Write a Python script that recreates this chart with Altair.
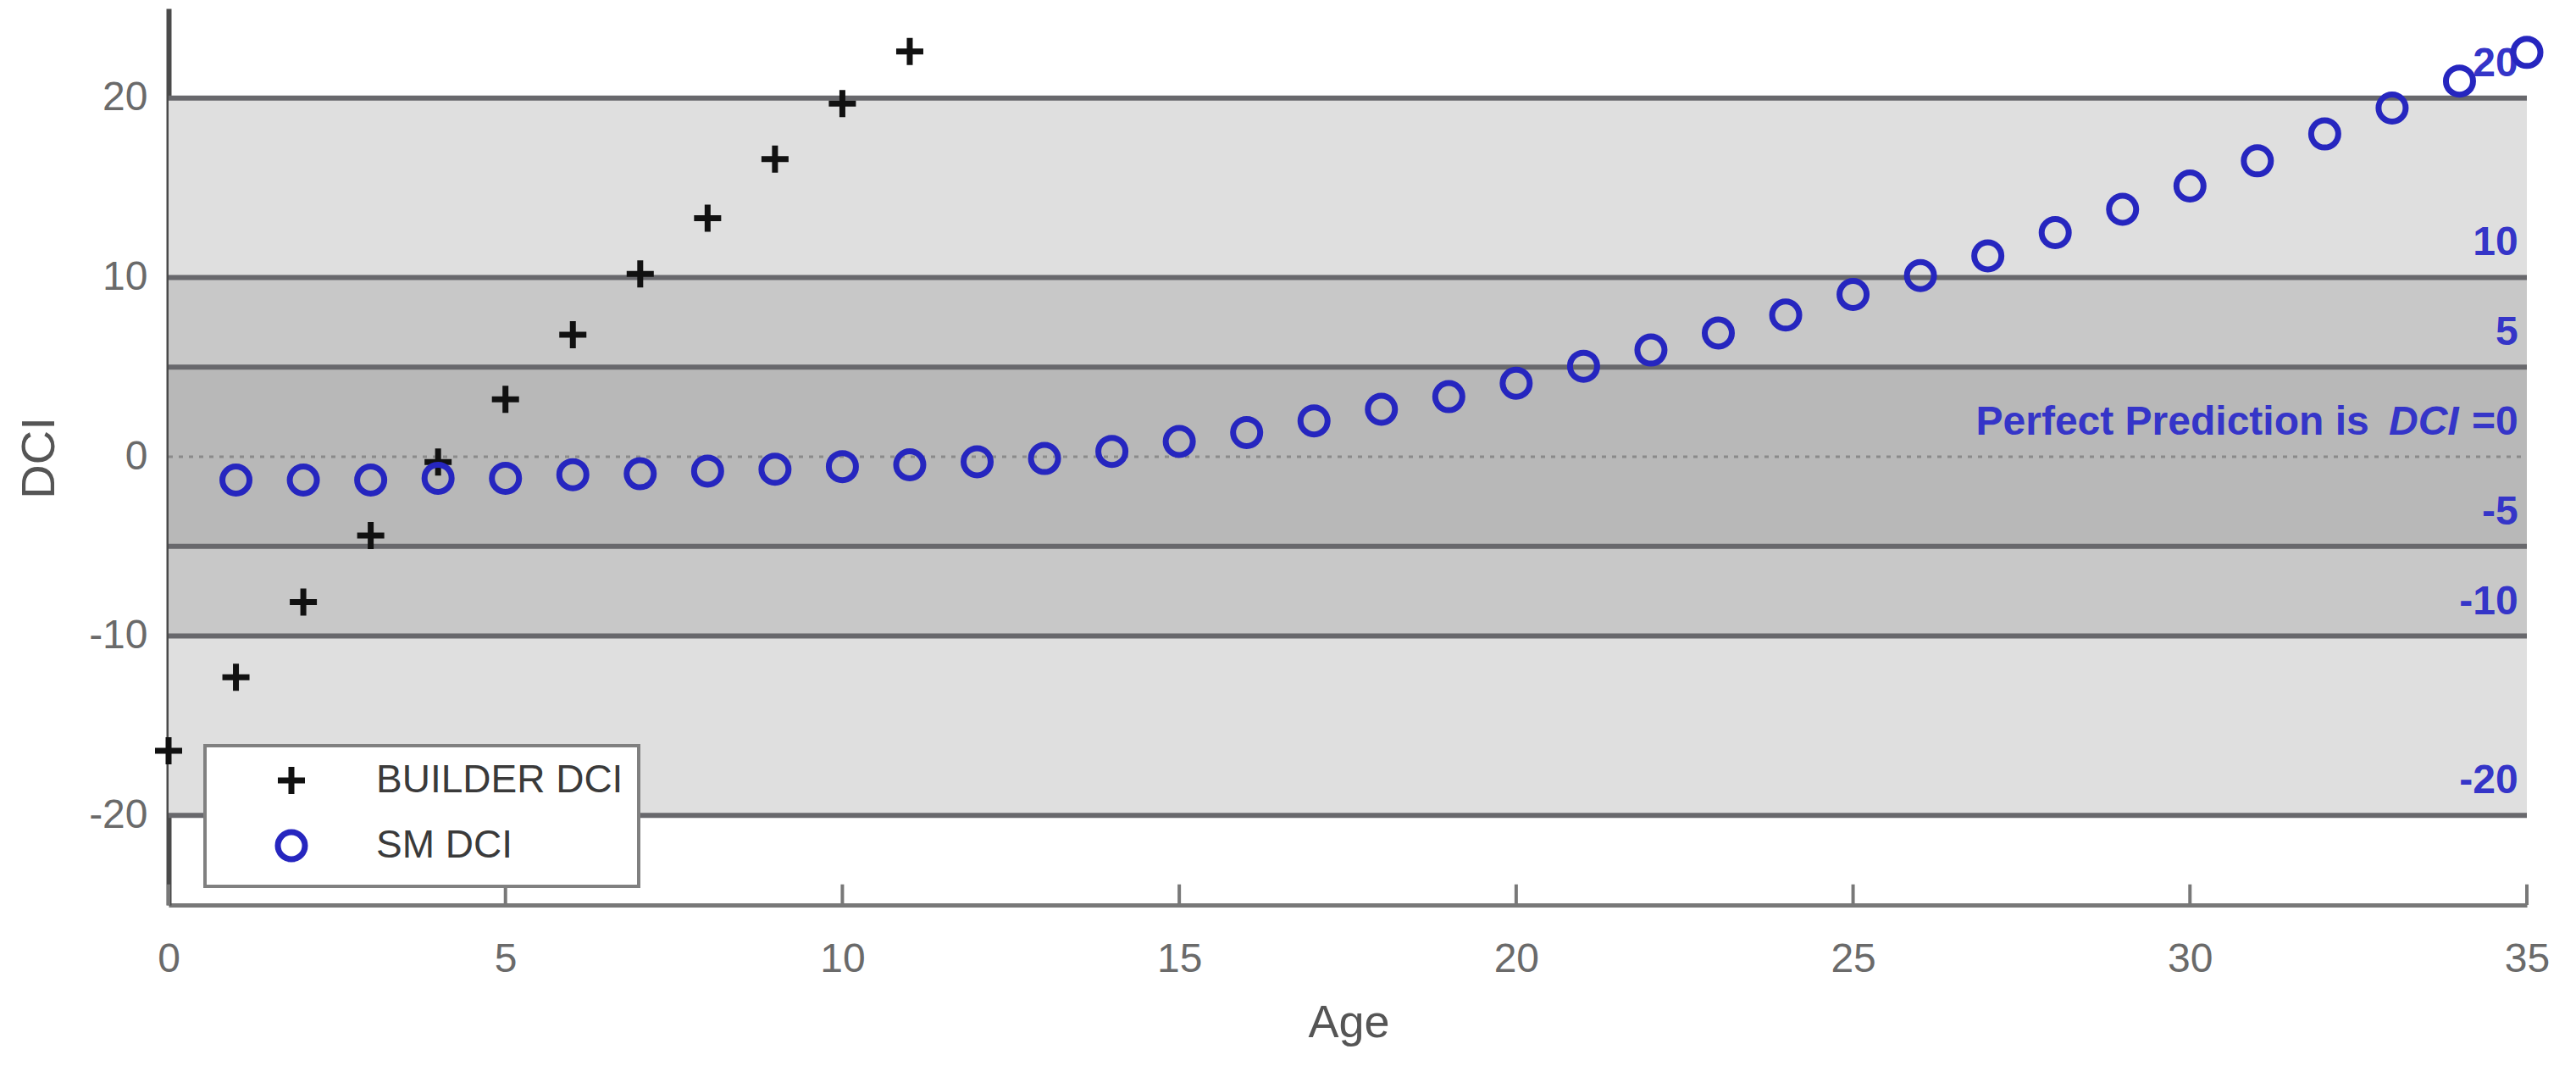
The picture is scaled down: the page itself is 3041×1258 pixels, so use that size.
import altair as alt
import pandas as pd

# ---------------- data ----------------
builder_age = list(range(0, 12))
builder_dci = [-16.4, -12.3, -8.1, -4.4, -0.3, 3.2, 6.8, 10.2, 13.3, 16.6, 19.7, 22.6]

sm_age = list(range(1, 36))
sm_dci = [-1.3, -1.3, -1.3, -1.2, -1.2, -1.0, -0.95, -0.8, -0.7, -0.55, -0.45,
          -0.28, -0.1, 0.3, 0.85, 1.35, 2.0, 2.65, 3.35, 4.1, 5.05, 5.95, 6.9,
          7.9, 9.05, 10.1, 11.2, 12.5, 13.8, 15.1, 16.5, 18.0, 19.45, 20.95, 22.55]

series_names = ["BUILDER DCI", "SM DCI"]

band_lo = [-20, -10, -5, 5, 10]
band_hi = [-10, -5, 5, 10, 20]
band_fill = ["#dfdfdf", "#c8c8c8", "#b8b8b8", "#c8c8c8", "#dfdfdf"]

limit_lines = [20, 10, 5, -5, -10, -20]
limit_labels = ["20", "10", "5", "-5", "-10", "-20"]

x_ticks = [0, 5, 10, 15, 20, 25, 30, 35]
y_ticks = [-20, -10, 0, 10, 20]

X_MIN, X_MAX = 0, 35
Y_MIN, Y_MAX = -25, 25
LABEL_X = 34.87
TICK_LEN = 1.15

# ---------------- tables ----------------
points = pd.DataFrame({
    "Age": builder_age + sm_age,
    "DCI": builder_dci + sm_dci,
    "series": [series_names[0]] * len(builder_age) + [series_names[1]] * len(sm_age),
})
bands = pd.DataFrame({"lo": band_lo, "hi": band_hi, "fill": band_fill,
                      "x0": X_MIN, "x1": X_MAX})
lines = pd.DataFrame({"y": limit_lines, "label": limit_labels,
                      "x0": X_MIN, "x1": X_MAX, "lx": LABEL_X})
zero = pd.DataFrame({"y": [0], "x0": [X_MIN], "x1": [X_MAX], "lx": [LABEL_X]})
ticks = pd.DataFrame({"x": x_ticks, "y0": Y_MIN, "y1": Y_MIN + TICK_LEN})

FONT = "Liberation Sans"
BLUE_TXT = "#3535c8"

xscale = alt.Scale(domain=[X_MIN, X_MAX], nice=False, zero=False)
yscale = alt.Scale(domain=[Y_MIN, Y_MAX], nice=False, zero=False)

x_axis = alt.Axis(values=x_ticks, ticks=False, tickSize=0, grid=False,
                  domainColor="#787878", domainWidth=5,
                  labelExpr="toString(datum.value)",
                  labelFontSize=48, labelColor="#6a6a6a", labelFont=FONT,
                  labelPadding=40, labelFlush=False,
                  title="Age", titleFontSize=54, titleFont=FONT,
                  titleColor="#555555", titleFontWeight="normal",
                  titleX=1393, titleY=139, titleBaseline="middle")
y_axis = alt.Axis(values=y_ticks, ticks=False, tickSize=0, grid=False,
                  domainColor="#4a4a4a", domainWidth=6,
                  labelExpr="toString(datum.value)",
                  labelFontSize=48, labelColor="#6a6a6a", labelFont=FONT,
                  labelPadding=25, labelFlush=False,
                  title="DCI", titleFontSize=56, titleFont=FONT,
                  titleColor="#555555", titleFontWeight="normal",
                  titleX=-153, titleY=530, titleAngle=270,
                  titleBaseline="middle", titleAlign="center")

band_layer = alt.Chart(bands).mark_rect().encode(
    x=alt.X("x0:Q", scale=xscale, axis=x_axis),
    x2="x1:Q",
    y=alt.Y("lo:Q", scale=yscale, axis=y_axis),
    y2="hi:Q",
    fill=alt.Fill("fill:N", scale=None),
)

line_layer = alt.Chart(lines).mark_rule(color="#68686c", strokeWidth=6).encode(
    x="x0:Q", x2="x1:Q", y="y:Q",
)

zero_layer = alt.Chart(zero).mark_rule(color="#8a8a8a", strokeWidth=3,
                                        strokeDash=[5, 7]).encode(
    x="x0:Q", x2="x1:Q", y="y:Q",
)

tick_layer = alt.Chart(ticks).mark_rule(color="#787878", strokeWidth=4).encode(
    x="x:Q", y="y0:Q", y2="y1:Q",
)

label_layer = alt.Chart(lines).mark_text(
    align="right", baseline="middle", dy=-40, font=FONT, fontSize=48,
    fontWeight="bold", color=BLUE_TXT,
).encode(x="lx:Q", y="y:Q", text="label:N")

perfect_a = alt.Chart(zero).mark_text(
    align="right", baseline="middle", dy=-40, dx=-176, font=FONT, fontSize=48,
    fontWeight="bold", color=BLUE_TXT,
).encode(x="lx:Q", y="y:Q", text=alt.value("Perfect Prediction is"))
perfect_b = alt.Chart(zero).mark_text(
    align="right", baseline="middle", dy=-40, dx=-70, font=FONT, fontSize=48,
    fontWeight="bold", fontStyle="italic", color=BLUE_TXT,
).encode(x="lx:Q", y="y:Q", text=alt.value("DCI"))
perfect_c = alt.Chart(zero).mark_text(
    align="right", baseline="middle", dy=-40, font=FONT, fontSize=48,
    fontWeight="bold", color=BLUE_TXT,
).encode(x="lx:Q", y="y:Q", text=alt.value("=0"))

PLUS = "M-1,0L1,0M0,-1L0,1"

legend_spec = alt.Legend(title=None, orient="none",
                         legendX=43, legendY=870,
                         fillColor="white", strokeColor="#808080",
                         padding=18, symbolOffset=61,
                         labelOffset=77, rowPadding=17,
                         symbolSize=1024, symbolStrokeWidth=7,
                         labelFontSize=46, labelFont=FONT,
                         labelColor="#3a3a3a", labelLimit=0)

point_layer = alt.Chart(points).mark_point(
    filled=False, size=1024, strokeWidth=7, opacity=1,
).encode(
    x="Age:Q",
    y="DCI:Q",
    shape=alt.Shape("series:N", scale=alt.Scale(domain=series_names,
                                                range=[PLUS, "circle"]),
                    legend=legend_spec),
    color=alt.Color("series:N", scale=alt.Scale(domain=series_names,
                                                range=["#111111", "#2626bf"]),
                    legend=legend_spec),
    order=alt.Order("series:N"),
)

chart = alt.layer(
    band_layer, line_layer, zero_layer, tick_layer, label_layer,
    perfect_a, perfect_b, perfect_c, point_layer,
).properties(
    width=2784, height=1058,
    autosize=alt.AutoSizeParams(type="none"),
    padding={"left": 191, "top": 2, "right": 50, "bottom": 180},
    background="white",
).configure_view(stroke=None).configure_legend(strokeWidth=4)

chart.save("out.html", embed_options={"renderer": "svg", "actions": False})
